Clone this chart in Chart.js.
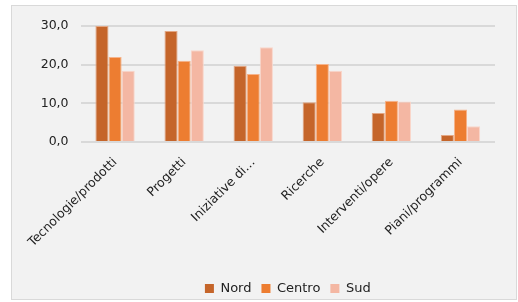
<!DOCTYPE html>
<html>
<head>
<meta charset="utf-8">
<script src="https://cdn.jsdelivr.net/npm/chart.js@4"></script>
<style>
  html, body { margin: 0; padding: 0; background: #ffffff; }
  #box {
    position: absolute; left: 11px; top: 5px;
    width: 504px; height: 293px;
    background: #f2f2f2; border: 1px solid #d9d9d9;
  }
</style>
</head>
<body>
<div id="box"><canvas id="myChart"></canvas></div>
<script>
// Categories and values
const categories = ['Tecnologie/prodotti', 'Progetti', 'Iniziative di…', 'Ricerche', 'Interventi/opere', 'Piani/programmi'];
const nord = [30.0, 28.7, 19.7, 10.3, 7.5, 1.8];
const centro = [22.0, 21.0, 17.6, 20.2, 10.7, 8.4];
const sud = [18.4, 23.7, 24.5, 18.4, 10.5, 4.1];
const yTicks = [0, 10, 20, 30];

const fontFamily = 'DejaVu Sans, Verdana, sans-serif';

// centre the legend under the plot area and push it a little lower, like the original
const legendShift = {
    id: 'legendShift',
    afterLayout(chart) {
        const lg = chart.legend;
        const d = (chart.chartArea.left + chart.chartArea.right) / 2 - (lg.left + lg.right) / 2;
        lg.left += d;
        lg.right += d;
        lg.top += 6;
        lg.bottom += 6;
    }
};

const data = {
    labels: categories,
    datasets: [
        { label: 'Nord', data: nord, backgroundColor: '#c5652a', borderColor: '#e3a784', borderWidth: 1 },
        { label: 'Centro', data: centro, backgroundColor: '#ed7d31', borderColor: '#f6b38a', borderWidth: 1 },
        { label: 'Sud', data: sud, backgroundColor: '#f4b7a3', borderColor: '#f9d6ca', borderWidth: 1 }
    ]
};

const config = {
    type: 'bar',
    data: data,
    options: {
        responsive: true,
        maintainAspectRatio: false,
        animation: false,
        layout: { padding: { left: 0, right: 21, top: 20, bottom: 0 } },
        datasets: {
            bar: { barPercentage: 1.0, categoryPercentage: 0.57 }
        },
        plugins: {
            tooltip: { enabled: false },
            legend: {
                position: 'bottom',
                labels: {
                    boxWidth: 9,
                    boxHeight: 9,
                    padding: 10,
                    color: '#222222',
                    font: { family: fontFamily, size: 13 },
                    generateLabels(chart) {
                        return chart.data.datasets.map((ds, i) => ({
                            text: ds.label,
                            fillStyle: ds.backgroundColor,
                            strokeStyle: ds.backgroundColor,
                            lineWidth: 0,
                            fontColor: '#222222',
                            datasetIndex: i
                        }));
                    }
                }
            }
        },
        scales: {
            x: {
                afterFit(axis) { axis.height = 124; },
                grid: { display: false, drawTicks: false },
                border: { display: false },
                ticks: {
                    autoSkip: false,
                    maxRotation: 45,
                    minRotation: 45,
                    padding: 13,
                    color: '#222222',
                    font: { family: fontFamily, size: 12.5 }
                }
            },
            y: {
                min: 0,
                max: 30,
                afterBuildTicks(axis) { axis.ticks = yTicks.map(v => ({ value: v })); },
                afterFit(axis) { axis.width = 68; },
                grid: { color: '#d9d9d9', lineWidth: 2, drawTicks: false },
                border: { display: false },
                ticks: {
                    padding: 12,
                    color: '#222222',
                    font: { family: fontFamily, size: 12.5 },
                    callback: v => v.toFixed(1).replace('.', ',')
                }
            }
        }
    },
    plugins: [legendShift]
};

const ctx = document.getElementById('myChart').getContext('2d');
const myChart = new Chart(ctx, config);
</script>
</body>
</html>
